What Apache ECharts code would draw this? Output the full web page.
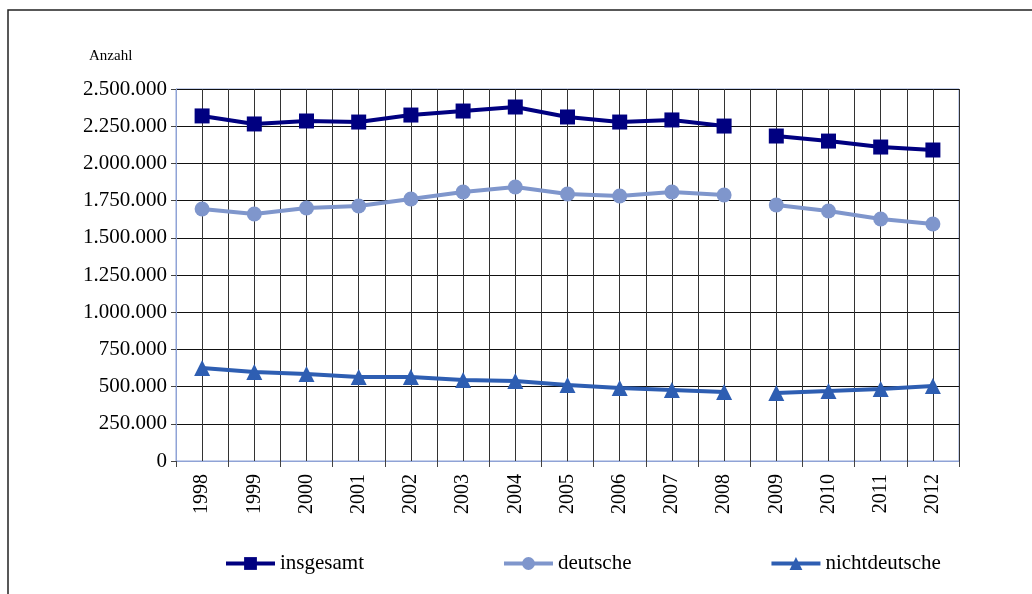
<!DOCTYPE html>
<html><head><meta charset="utf-8">
<script src="https://cdn.jsdelivr.net/npm/echarts@6/dist/echarts.min.js"></script>
<style>html,body{margin:0;padding:0;background:#fff}#c{width:1032px;height:594px}</style>
</head><body><div id="c"></div>
<script>
const years = ['1998','1999','2000','2001','2002','2003','2004','2005','2006','2007','2008','2009','2010','2011','2012'];
const insgesamt = [2319000,2265000,2285000,2278000,2325000,2352000,2379000,2312000,2278000,2292000,2251000,2184000,2150000,2110000,2090000];
const deutsche = [1694000,1660000,1700000,1714000,1761000,1808000,1841000,1794000,1781000,1808000,1788000,1720000,1680000,1626000,1593000];
const nichtdeutsche = [625000,598000,585000,565000,565000,544000,538000,511000,490000,477000,464000,457000,470000,484000,504000];
const yTicks = [0,250000,500000,750000,1000000,1250000,1500000,1750000,2000000,2250000,2500000];
const breakIndex = 11; // line is interrupted between 2008 and 2009

const FONT = '"Liberation Serif","DejaVu Serif",serif';
const fmt = v => String(v).replace(/\B(?=(\d{3})+(?!\d))/g, '.');

function segs(name, arr, color, symbol) {
  const a = arr.map((v,i) => i < breakIndex ? v : null);
  const b = arr.map((v,i) => i >= breakIndex ? v : null);
  return [a,b].map(d => ({
    name, type:'line', data:d, symbol, symbolSize: symbol==='triangle'?16:15,
    connectNulls:false, lineStyle:{color, width:4}, itemStyle:{color},
    z: 5, animation:false
  }));
}

const chart = echarts.init(document.getElementById('c'), null, {renderer:'canvas'});
chart.setOption({
  animation:false,
  graphic:[
    {type:'rect', shape:{x:8, y:10, width:1040, height:600}, style:{fill:'none', stroke:'#222', lineWidth:1.5}, z:0},
    {type:'text', left:89, top:49, style:{text:'Anzahl', font:'15px '+FONT, fill:'#000'}}
  ],
  grid:{left:176, right:73, top:89, bottom:133, show:true, borderColor:'#8FA3D6', borderWidth:1, backgroundColor:'transparent'},
  legend:{
    left:219, top:548, itemWidth:49, itemHeight:16, itemGap:138,
    lineStyle:{width:4},
    textStyle:{fontFamily:FONT, fontSize:21, color:'#000'},
    data:['insgesamt','deutsche','nichtdeutsche']
  },
  xAxis:[
    {type:'category', data:years, boundaryGap:true,
     axisLine:{show:true, lineStyle:{color:'#8FA3D6', width:1}},
     axisTick:{show:true, length:6, lineStyle:{color:'#444'}},
     axisLabel:{rotate:90, fontFamily:FONT, fontSize:20, color:'#000', margin:13},
     splitLine:{show:false}},
    {type:'value', min:0, max:15, interval:0.5, show:true,
     axisLine:{show:false}, axisTick:{show:false}, axisLabel:{show:false},
     splitLine:{show:true, lineStyle:{color:'#333', width:1}}}
  ],
  yAxis:{type:'value', min:0, max:2500000, interval:250000,
    axisLine:{show:true, lineStyle:{color:'#8FA3D6'}},
    axisTick:{show:true, length:5, lineStyle:{color:'#444'}},
    axisLabel:{formatter:v=>fmt(v), fontFamily:FONT, fontSize:21, color:'#000', margin:9},
    splitLine:{show:true, lineStyle:{color:'#111', width:1}}},
  series:[
    ...segs('insgesamt', insgesamt, '#000080', 'rect'),
    ...segs('deutsche', deutsche, '#7F96CC', 'circle'),
    ...segs('nichtdeutsche', nichtdeutsche, '#2E5EB2', 'triangle')
  ]
});
</script></body></html>
